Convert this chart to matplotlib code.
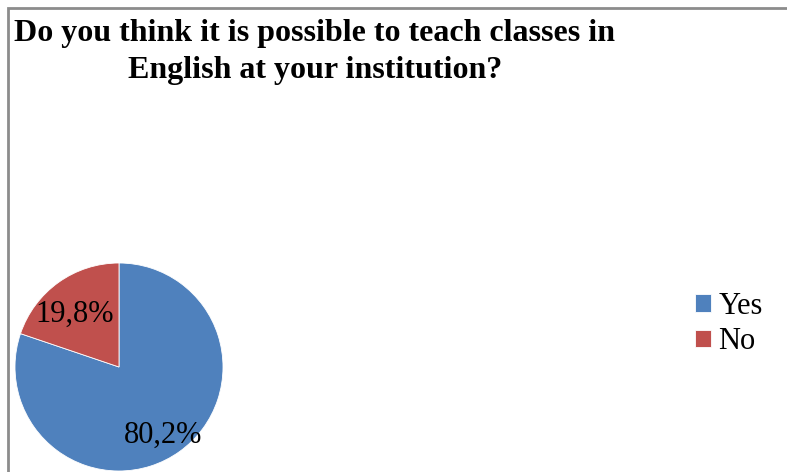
import matplotlib.pyplot as plt
from matplotlib.patches import Rectangle

# data
labels = ['Yes', 'No']
shares = [80.2, 19.8]
pct_text = ['80,2%', '19,8%']
colors = ['#4F81BD', '#C0504D']

W, H = 787, 472
fig = plt.figure(figsize=(W / 100, H / 100), dpi=100)
plt.rcParams['font.family'] = ['Liberation Serif', 'DejaVu Serif']

# outer frame of the chart area (right and bottom edges run off the image)
fig.patches.append(Rectangle((8 / W, -0.05), 1.0, 1 - 8 / H + 0.05,
                             transform=fig.transFigure, fill=False,
                             edgecolor='#8c8c8c', linewidth=2))

fig.text(315 / W, 1 - 33 / H, 'Do you think it is possible to teach classes in',
         ha='center', va='center', fontsize=23, fontweight='bold')
fig.text(315 / W, 1 - 71 / H, 'English at your institution?',
         ha='center', va='center', fontsize=23, fontweight='bold')

# pie: center (119, 367) px, radius 104 px
ax = fig.add_axes([15 / W, 1 / H, 208 / W, 208 / H])
wedges, _ = ax.pie(shares, colors=colors, startangle=90, counterclock=False,
                   wedgeprops=dict(edgecolor='white', linewidth=0.6))
ax.set_xlim(-1, 1)
ax.set_ylim(-1, 1)
ax.set_aspect('equal')
ax.axis('off')

ax.text(0.42, -0.66, pct_text[0], ha='center', va='center', fontsize=22)
ax.text(-0.43, 0.51, pct_text[1], ha='center', va='center', fontsize=22)

fig.legend(wedges, labels, loc='center left',
           bbox_to_anchor=(680 / W, 1 - 324 / H), frameon=False,
           fontsize=22, handlelength=0.5, handleheight=0.5,
           handletextpad=0.25, labelspacing=0.22, borderpad=0)

fig.savefig('out.png', dpi=100)
